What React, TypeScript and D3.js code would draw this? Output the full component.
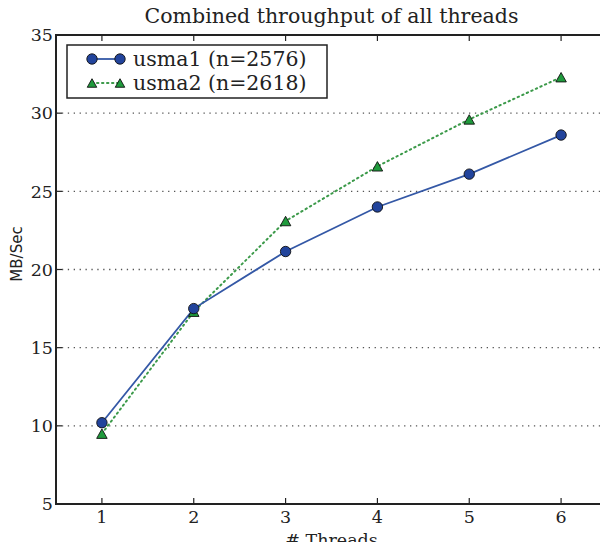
import React from 'react'
import * as d3 from 'd3'

const threads = [1, 2, 3, 4, 5, 6]
const usma1 = [10.2, 17.5, 21.15, 24.0, 26.1, 28.6]
const usma2 = [9.5, 17.3, 23.1, 26.6, 29.6, 32.3]
const yTicks = [5, 10, 15, 20, 25, 30, 35]
const seriesNames = ['usma1 (n=2576)', 'usma2 (n=2618)']

const W = 608
const H = 550
const margin = { top: 35, right: 0, bottom: 46, left: 56 }
const serif = '"DejaVu Serif", serif'
const sans = '"DejaVu Sans", sans-serif'

// matplotlib style '^' marker: bbox centred on the point, size = width
const triangleUp = {
  draw(ctx: any, size: number) {
    const w = size / 2
    const h = size * 0.45
    ctx.moveTo(0, -h)
    ctx.lineTo(w, h)
    ctx.lineTo(-w, h)
    ctx.closePath()
  },
}

export default function App() {
  const x = d3.scaleLinear().domain([0.5, 6.5]).range([margin.left, W - margin.right - 1])
  const y = d3.scaleLinear().domain([5, 35]).range([H - margin.bottom, margin.top])

  const line = d3.line<number>()
    .x((_, i) => x(threads[i]))
    .y(d => y(d))

  const blue = '#3458a6'
  const blueFill = '#22449c'
  const green = '#3c9a4a'
  const greenFill = '#1f9a3c'

  const tri = d3.symbol(triangleUp, 10.5)() ?? ''
  const triSmall = d3.symbol(triangleUp, 9.5)() ?? ''

  const [left, right] = x.range()
  const [bottom, top] = y.range()

  return (
    <div style={{ margin: -8 }}>
      <svg width={W} height={H} style={{ display: 'block', background: '#fff' }}>
        <text x={(left + right) / 2} y={23} textAnchor="middle" fontFamily={serif} fontSize={20.5} fill="#222">
          Combined throughput of all threads
        </text>

        {/* grid */}
        {yTicks.slice(1, -1).map(t => (
          <line key={t} x1={left} x2={right} y1={y(t)} y2={y(t)} stroke="#555" strokeWidth={1.3} strokeDasharray="1.3,4.6" />
        ))}

        {/* ticks point inward, on all four sides */}
        {yTicks.map(t => (
          <g key={'y' + t}>
            <line x1={left} x2={left + 6} y1={y(t)} y2={y(t)} stroke="#222" strokeWidth={1.2} />
            <line x1={right - 6} x2={right} y1={y(t)} y2={y(t)} stroke="#222" strokeWidth={1.2} />
            <text x={left - 3} y={y(t)} dy="0.36em" textAnchor="end" fontFamily={serif} fontSize={17.5} fill="#222">{t}</text>
          </g>
        ))}
        {threads.map(t => (
          <g key={'x' + t}>
            <line x1={x(t)} x2={x(t)} y1={bottom} y2={bottom - 6} stroke="#222" strokeWidth={1.2} />
            <line x1={x(t)} x2={x(t)} y1={top} y2={top + 6} stroke="#222" strokeWidth={1.2} />
            <text x={x(t)} y={bottom + 19} textAnchor="middle" fontFamily={serif} fontSize={17.5} fill="#222">{t}</text>
          </g>
        ))}

        {/* series */}
        <path d={line(usma2) ?? ''} fill="none" stroke={green} strokeWidth={2} strokeDasharray="1.4,3.6" strokeLinecap="round" />
        <path d={line(usma1) ?? ''} fill="none" stroke={blue} strokeWidth={1.8} />

        {usma2.map((v, i) => (
          <path key={'t' + i} d={tri} transform={`translate(${x(threads[i])},${y(v)})`} fill={greenFill} stroke="#111" strokeWidth={0.9} />
        ))}
        {usma1.map((v, i) => (
          <circle key={'c' + i} cx={x(threads[i])} cy={y(v)} r={5.2} fill={blueFill} stroke="#111" strokeWidth={0.9} />
        ))}

        {/* frame */}
        <rect x={left} y={top} width={right - left} height={bottom - top} fill="none" stroke="#222" strokeWidth={2} />

        {/* legend */}
        <g>
          <rect x={67} y={45} width={260} height={53} fill="#fff" stroke="#222" strokeWidth={1.5} />
          <line x1={92} x2={120} y1={59} y2={59} stroke={blue} strokeWidth={1.8} />
          <circle cx={92} cy={59} r={5.2} fill={blueFill} stroke="#111" strokeWidth={0.9} />
          <circle cx={120} cy={59} r={5.2} fill={blueFill} stroke="#111" strokeWidth={0.9} />
          <text x={133} y={66} fontFamily={serif} fontSize={20.5} fill="#222">{seriesNames[0]}</text>
          <line x1={92} x2={120} y1={83} y2={83} stroke={green} strokeWidth={2} strokeDasharray="1.4,3.6" strokeLinecap="round" />
          <path d={triSmall} transform="translate(92,83)" fill={greenFill} stroke="#111" strokeWidth={0.9} />
          <path d={triSmall} transform="translate(120,83)" fill={greenFill} stroke="#111" strokeWidth={0.9} />
          <text x={133} y={90} fontFamily={serif} fontSize={20.5} fill="#222">{seriesNames[1]}</text>
        </g>

        <text transform={`translate(22,254) rotate(-90)`} textAnchor="middle" fontFamily={sans} fontSize={15} fill="#222">
          MB/Sec
        </text>
        <text x={(left + right) / 2} y={546} textAnchor="middle" fontFamily={serif} fontSize={17.5} fill="#222">
          # Threads
        </text>
      </svg>
    </div>
  )
}
